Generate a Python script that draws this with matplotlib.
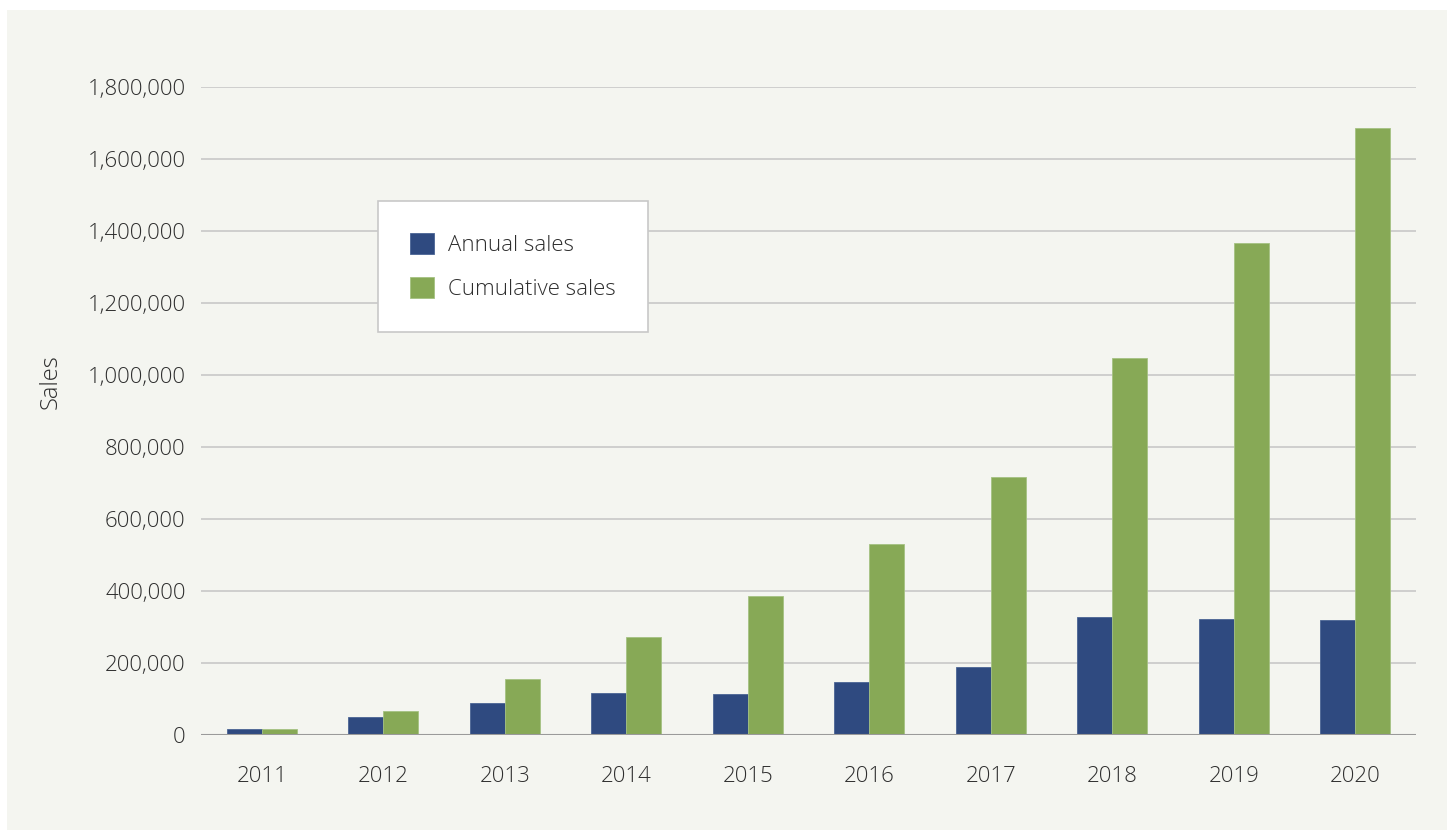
import matplotlib.pyplot as plt
import matplotlib.ticker as mticker
from matplotlib.patches import Rectangle
import numpy as np

# data
years = ['2011', '2012', '2013', '2014', '2015', '2016', '2017', '2018', '2019', '2020']
annual_sales = [17000, 50000, 88000, 117000, 113000, 146000, 188000, 328000, 322000, 319000]
cumulative_sales = [17000, 66000, 155000, 271000, 385000, 530000, 718000, 1047000, 1367000, 1686000]

plt.rcParams['font.family'] = ['Open Sans', 'DejaVu Sans']
plt.rcParams['font.weight'] = 'light'
txt = '#2e2e2e'
fs = 16

fig = plt.figure(figsize=(14.5, 8.31), dpi=100, facecolor='white')
# beige panel behind the chart
fig.patches.append(Rectangle((7 / 1450, 1 - 830 / 831), 1440 / 1450, 820 / 831,
                             transform=fig.transFigure, facecolor='#f4f5f0',
                             edgecolor='none', zorder=-10))

ax = fig.add_axes([201 / 1450, 1 - 735 / 831, 1215 / 1450, 648 / 831])
ax.set_facecolor('none')

x = np.arange(len(years))
w = 0.29
ax.bar(x - w / 2, annual_sales, w, color='#2f4a80', edgecolor='#4a6494', linewidth=0.6,
       label='Annual sales', zorder=3)
ax.bar(x + w / 2, cumulative_sales, w, color='#87a956', edgecolor='#a5c282', linewidth=0.6,
       label='Cumulative sales', zorder=3)

ax.set_xlim(-0.5, len(years) - 0.5)
ax.set_ylim(0, 1800000)
ax.set_yticks(np.arange(0, 1800001, 200000))
ax.yaxis.set_major_formatter(mticker.FuncFormatter(lambda v, p: f'{int(v):,}'))
ax.set_xticks(x)
ax.set_xticklabels(years)

ax.grid(axis='y', color='#c8c8c8', linewidth=1.2, zorder=0)
ax.axhline(0, color='#9a9a9a', linewidth=1.5, zorder=4)
for s in ax.spines.values():
    s.set_visible(False)
ax.tick_params(axis='both', length=0, labelsize=fs, colors=txt)
ax.tick_params(axis='x', pad=22)
ax.tick_params(axis='y', pad=11)

ax.set_ylabel('Sales', fontsize=fs + 1, color=txt, fontweight='light')
ax.yaxis.set_label_coords(-0.114, 0.546)

leg = ax.legend(loc='upper left', bbox_to_anchor=((378 - 201) / 1215, (735 - 201) / 648),
                borderaxespad=0, frameon=True, fancybox=False, fontsize=fs,
                framealpha=1, handlelength=1.05, handleheight=1.05, handletextpad=0.65,
                borderpad=1.45, labelspacing=0.95)
leg.get_frame().set_edgecolor('#c8c8c8')
leg.get_frame().set_facecolor('white')
leg.get_frame().set_linewidth(1.2)
for t in leg.get_texts():
    t.set_color(txt)

fig.savefig('out.png', dpi=100, facecolor=fig.get_facecolor())
